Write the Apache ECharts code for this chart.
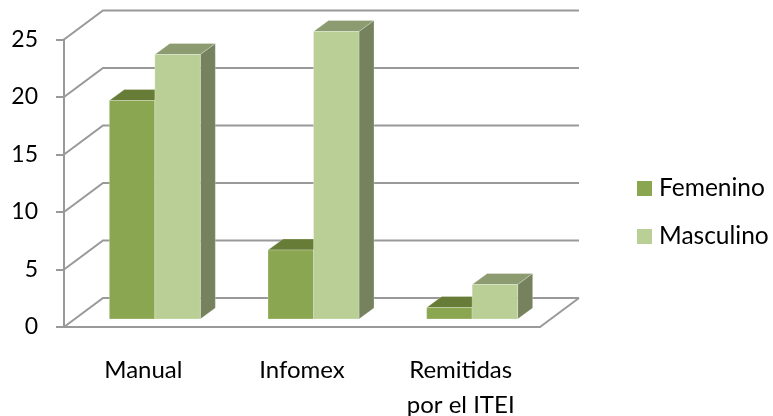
<!DOCTYPE html>
<html><head><meta charset="utf-8">
<style>html,body{margin:0;padding:0;background:#fff}#c{width:773px;height:416px}</style>
<script src="https://cdn.jsdelivr.net/npm/echarts@6/dist/echarts.min.js"></script>
</head><body><div id="c"></div>
<script>
const categories = ['Manual', 'Infomex', 'Remitidas\npor el ITEI'];
const femenino = [19, 6, 1];
const masculino = [23, 25, 3];
const yTicks = [0, 5, 10, 15, 20, 25];
const FONT = 'Lato';
const GRID = '#999999';
const WALL_DX = 39, WALL_DY = 29;      // depth of the chart box
const BASE_DX = 11.5, BASE_DY = 8;     // gap between front plane and bar front
const DEPTH_DX = 15, DEPTH_DY = 11;    // depth of one bar
const BAR_W = 45.5;

const chart = echarts.init(document.getElementById('c'), null, {renderer: 'canvas'});

function wall(params, api) {
  const cs = params.coordSys;
  const p = api.coord([0, api.value(1)]);
  const x0 = cs.x, x1 = cs.x + cs.width, y = p[1];
  const st = {stroke: GRID, lineWidth: 2, fill: null};
  const poly = pts => ({type: 'polyline', shape: {points: pts}, style: st, silent: true});
  const children = [poly([[x0, y], [x0 + WALL_DX, y - WALL_DY], [x1 + WALL_DX, y - WALL_DY]])];
  if (api.value(1) === 0) children.push(poly([[x1, y], [x1 + WALL_DX, y - WALL_DY]]));
  return {type: 'group', children};
}
function bar(side, front, top, right) {
  return function (params, api) {
    const base = api.coord([api.value(0), 0]);
    const head = api.coord([api.value(0), api.value(1)]);
    const xl = base[0] + BASE_DX + (side < 0 ? -BAR_W : 0);
    const xr = xl + BAR_W;
    const yb = base[1] - BASE_DY, yt = head[1] - BASE_DY;
    const edge = {stroke: 'rgba(255,255,255,0.25)', lineWidth: 1};
    return {type: 'group', children: [
      {type: 'polygon', shape: {points: [[xl, yt], [xl + DEPTH_DX, yt - DEPTH_DY], [xr + DEPTH_DX, yt - DEPTH_DY], [xr, yt]]}, style: Object.assign({fill: top}, edge)},
      {type: 'polygon', shape: {points: [[xr, yb], [xr, yt], [xr + DEPTH_DX, yt - DEPTH_DY], [xr + DEPTH_DX, yb - DEPTH_DY]]}, style: Object.assign({fill: right}, edge)},
      {type: 'rect', shape: {x: xl, y: yt, width: BAR_W, height: yb - yt}, style: Object.assign({fill: front}, edge)}
    ]};
  };
}
chart.setOption({
  animation: false,
  backgroundColor: '#fff',
  grid: {left: 64, right: 233, top: 39.5, bottom: 89, containLabel: false, outerBoundsMode: 'none'},
  legend: {
    orient: 'vertical', left: 637, top: 175.5, padding: 0, icon: 'rect', itemWidth: 15, itemHeight: 15, itemGap: 22,
    data: ['Femenino', 'Masculino'], selectedMode: false,
    textStyle: {fontFamily: FONT, fontSize: 24.5, color: '#000', padding: [0, 0, 0, 2], lineHeight: 26}
  },
  xAxis: {
    type: 'category', data: categories,
    axisLine: {lineStyle: {color: GRID, width: 2}},
    axisTick: {length: 9, alignWithLabel: false, lineStyle: {color: GRID, width: 2}},
    axisLabel: {fontFamily: FONT, fontSize: 24, color: '#000', margin: 26, lineHeight: 35, interval: 0},
    splitLine: {show: false}
  },
  yAxis: {
    type: 'value', min: 0, max: 25, interval: 5,
    axisLine: {show: true, lineStyle: {color: GRID, width: 2}},
    axisTick: {show: true, length: 8, lineStyle: {color: GRID, width: 2}},
    axisLabel: {fontFamily: FONT, fontSize: 23, color: '#000', margin: 26},
    splitLine: {show: false}
  },
  series: [
    {type: 'custom', name: 'walls', z: 1, silent: true, clip: false, renderItem: wall,
      encode: {x: 0, y: 1}, data: yTicks.map(v => [0, v])},
    {type: 'custom', name: 'Femenino', z: 2, clip: false, itemStyle: {color: '#8ba650'},
      renderItem: bar(-1, '#8ba650', '#677d37', '#677d37'),
      encode: {x: 0, y: 1}, data: femenino.map((v, i) => [i, v])},
    {type: 'custom', name: 'Masculino', z: 3, clip: false, itemStyle: {color: '#b9cf96'},
      renderItem: bar(1, '#b9cf96', '#8d9c70', '#76825d'),
      encode: {x: 0, y: 1}, data: masculino.map((v, i) => [i, v])}
  ]
});
</script></body></html>
